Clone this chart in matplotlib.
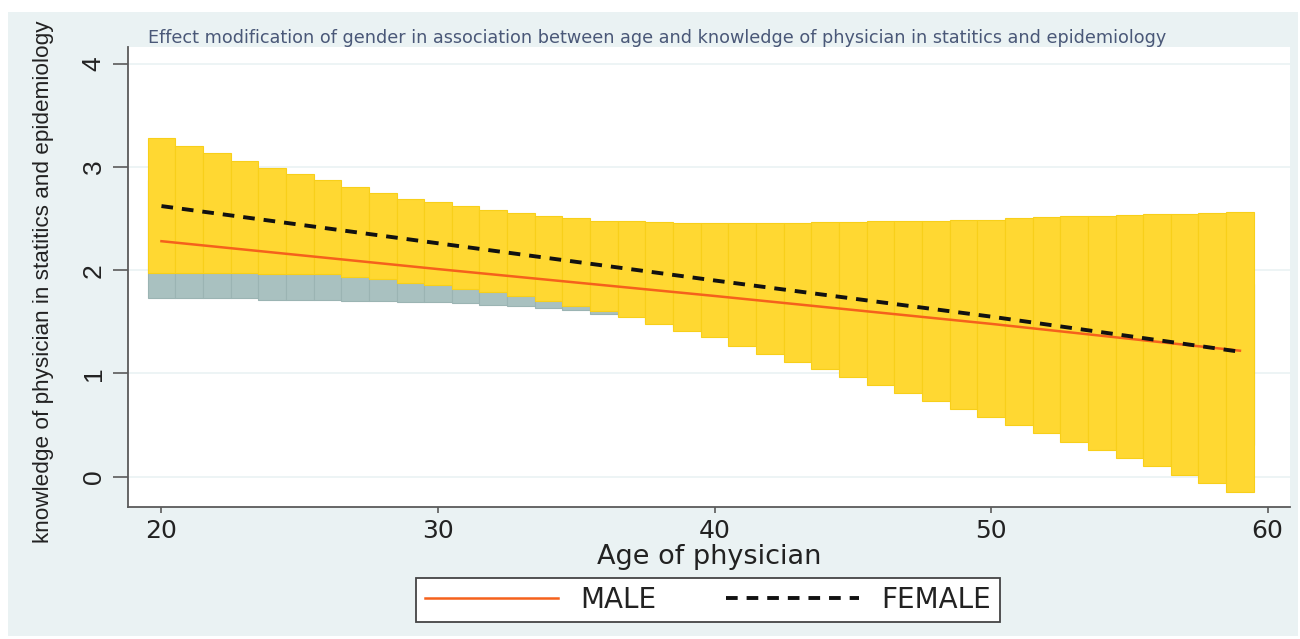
import numpy as np
import matplotlib
matplotlib.use("Agg")
import matplotlib.pyplot as plt
from matplotlib import font_manager
from matplotlib.patches import Rectangle

# ages for the CI bars
ages = list(range(20, 60))

# female CI (yellow bars)
fem_upper = [3.28, 3.20, 3.13, 3.06, 2.99, 2.93, 2.87, 2.80, 2.75, 2.69,
             2.66, 2.62, 2.58, 2.55, 2.52, 2.50, 2.48, 2.475, 2.47, 2.46,
             2.46, 2.455, 2.455, 2.46, 2.47, 2.47, 2.475, 2.48, 2.48, 2.485,
             2.49, 2.50, 2.51, 2.52, 2.52, 2.53, 2.54, 2.545, 2.55, 2.56]
fem_lower = [1.97, 1.97, 1.97, 1.97, 1.96, 1.96, 1.96, 1.93, 1.91, 1.88,
             1.86, 1.82, 1.79, 1.75, 1.70, 1.65, 1.60, 1.55, 1.475, 1.41,
             1.35, 1.27, 1.19, 1.11, 1.04, 0.97, 0.89, 0.81, 0.73, 0.655,
             0.58, 0.50, 0.42, 0.34, 0.26, 0.18, 0.10, 0.02, -0.06, -0.145]

# male CI (grey bars, mostly hidden behind yellow)
male_upper = [2.87, 2.82, 2.77, 2.72, 2.67, 2.62, 2.58, 2.53, 2.49, 2.45,
              2.41, 2.37, 2.33, 2.29, 2.25, 2.21, 2.17, 2.13, 2.10, 2.07,
              2.04, 2.01, 1.98, 1.96, 1.94, 1.92, 1.90, 1.89, 1.88, 1.87,
              1.86, 1.85, 1.85, 1.85, 1.85, 1.85, 1.85, 1.86, 1.86, 1.87]
male_lower = [1.73, 1.73, 1.73, 1.73, 1.71, 1.71, 1.71, 1.70, 1.70, 1.69,
              1.69, 1.68, 1.66, 1.65, 1.63, 1.61, 1.575, 1.56, 1.50, 1.45,
              1.40, 1.35, 1.30, 1.25, 1.20, 1.14, 1.09, 1.03, 0.97, 0.91,
              0.85, 0.79, 0.73, 0.67, 0.61, 0.55, 0.49, 0.43, 0.37, 0.31]

# fitted lines
line_ages = [20, 30, 40, 50, 59]
male_fit = [2.28, 2.01, 1.75, 1.48, 1.22]
female_fit = [2.62, 2.26, 1.90, 1.55, 1.21]

bg = '#EAF2F3'
names = {f.name for f in font_manager.fontManager.ttflist}
narrow = 'Liberation Sans Narrow' if 'Liberation Sans Narrow' in names else 'Liberation Sans'

fig = plt.figure(figsize=(13, 6.39), dpi=100, facecolor='white')
fig.patches.append(Rectangle((8/1300, 3/639), 1290/1300, 624/639, transform=fig.transFigure,
                             facecolor=bg, edgecolor='none', zorder=-10))

ax = fig.add_axes([128/1300, 1 - 507/639, 1162/1300, 460/639])
ax.set_facecolor('white')

mu = np.array(male_upper); ml = np.array(male_lower)
fu = np.array(fem_upper); fl = np.array(fem_lower)
ax.bar(ages, mu - ml, bottom=ml, width=1.0, color='#A9C1C0', edgecolor='#9BB4B3',
       linewidth=0.8, zorder=2)
ax.bar(ages, fu - fl, bottom=fl, width=1.0, color='#FFD832', edgecolor='#F8CF1A',
       linewidth=0.8, zorder=3)

ax.plot(line_ages, male_fit, color='#F5611C', lw=1.8, zorder=4, label='MALE')
ax.plot(line_ages, female_fit, color='#111111', lw=2.8, dashes=(3, 2.3), zorder=5,
        label='FEMALE')

ax.set_xlim(18.79, 60.81)
ax.set_ylim(-0.293, 4.16)
ax.set_xticks([20, 30, 40, 50, 60])
ax.set_yticks([0, 1, 2, 3, 4])
ax.yaxis.grid(True, color=bg, lw=1.2, zorder=0)
ax.set_axisbelow(True)

for s in ['top', 'right']:
    ax.spines[s].set_visible(False)
for s in ['left', 'bottom']:
    ax.spines[s].set_color('#5a5a5a')
    ax.spines[s].set_linewidth(1.3)

ax.tick_params(axis='x', length=4, width=1.2, color='#5a5a5a', pad=5,
               labelsize=18, labelcolor='#222222')
ax.tick_params(axis='y', length=11, width=1.2, color='#5a5a5a', pad=5,
               labelsize=19, labelcolor='#222222')
for t in ax.get_yticklabels():
    t.set_rotation(90)
    t.set_va('center')
    t.set_family(narrow)

ax.set_xlabel('Age of physician', fontsize=19.5, color='#222222', labelpad=0)
fig.text(44/1300, 1 - 282/639, 'knowledge of physician in statitics and epidemiology',
         rotation=90, ha='center', va='center', fontsize=16.2, family=narrow, color='#222222')

fig.text(148/1300, 1 - 38/639,
         'Effect modification of gender in association between age and knowledge of physician in statitics and epidemiology',
         ha='left', va='center', fontsize=12.7, color='#4A5878')

leg = ax.legend(loc='center', bbox_to_anchor=(708/1300, 1 - 600/639),
                bbox_transform=fig.transFigure, ncol=2, fontsize=20, frameon=True,
                fancybox=False, framealpha=1, handlelength=4.8, handletextpad=0.8,
                columnspacing=2.5, borderpad=0.3, borderaxespad=0)
leg.get_frame().set_edgecolor('#444444')
leg.get_frame().set_linewidth(1.3)
for t in leg.get_texts():
    t.set_color('#222222')

fig.savefig('out.png', dpi=100, facecolor=fig.get_facecolor())
